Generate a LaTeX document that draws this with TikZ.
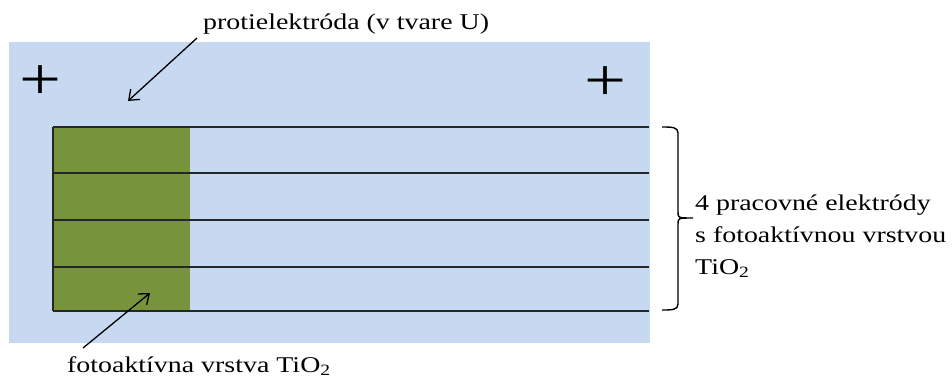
\documentclass[tikz,border=0pt]{standalone}
\usepackage{fontspec}
\setmainfont{Liberation Serif}[FakeStretch=1.24]
\usetikzlibrary{arrows.meta}
\definecolor{bgblue}{HTML}{C6D9F1}
\definecolor{olive}{HTML}{77933C}
\begin{document}
\begin{tikzpicture}[x=1pt,y=-1pt,
  lbl/.style={font=\fontsize{22.5pt}{32pt}\selectfont, inner sep=0pt},
  sep/.style={line width=1.4pt, draw=black!85},
  arr/.style={line width=1.3pt, -{Straight Barb[length=9pt,width=14pt]}},
  plus/.style={font=\fontsize{60pt}{60pt}\selectfont, inner sep=0pt}]
\useasboundingbox (0,0) rectangle (952,381);
\fill[bgblue] (9,42) rectangle (650,343);
\fill[olive] (53,127) rectangle (190,311);
\foreach \y in {127,173,220,267,311}{\draw[sep] (53,\y) -- (649,\y);}
\draw[sep] (53,127) -- (53,311);
\node[plus] (p1) at (40,83) {+};
\node[plus] (p2) at (605,84) {+};
\node[lbl, anchor=base west] (top) at (203,29) {protielektróda (v tvare U)};
\coordinate (ts) at (197,38);
\coordinate (ta) at (128,101);
\draw[arr] (ts) -- (ta);
\node[lbl, anchor=base west] (bot) at (67,372) {fotoaktívna vrstva TiO\textsubscript{2}};
\coordinate (ba) at (150,293);
\coordinate (bs) at (83,348);
\draw[arr] (bs) -- (ba);
\draw[line width=1.4pt] (662,127) .. controls (672,127) and (678,127) .. (678,133) -- (678,212) .. controls (678,218) .. (693,218) coordinate (tip) .. controls (678,218) .. (678,224) -- (678,304) .. controls (678,310) and (672,310) .. (662,310);
\node[lbl, anchor=base west, align=left] (rt) at (695,274) {4 pracovné elektródy\\s fotoaktívnou vrstvou\\TiO\textsubscript{2}};
\end{tikzpicture}
\end{document}
